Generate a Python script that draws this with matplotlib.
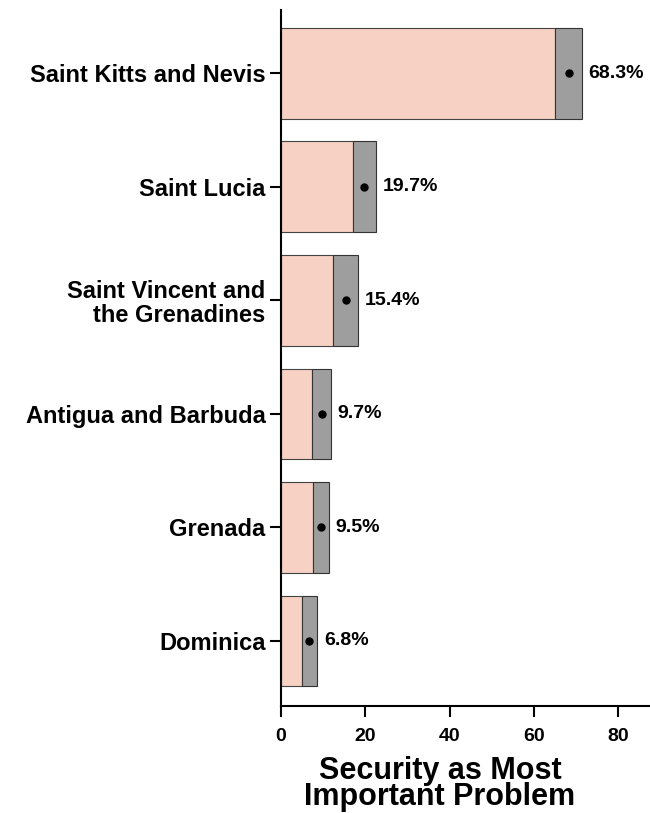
"""
Security as most important problem, by country.
Bars run up to the lower bound, grey box spans the interval,
dot marks the estimate.
"""

import matplotlib
matplotlib.use("Agg")
import matplotlib.pyplot as plt

countries = ["Saint Kitts and Nevis", "Saint Lucia",
             "Saint Vincent and\nthe Grenadines", "Antigua and Barbuda",
             "Grenada", "Dominica"]
estimate = [68.3, 19.7, 15.4, 9.7, 9.5, 6.8]
lower = [65.1, 17.1, 12.4, 7.4, 7.7, 5.0]
upper = [71.3, 22.5, 18.2, 11.9, 11.4, 8.6]
x_ticks = [0, 20, 40, 60, 80]

plt.rcParams['font.family'] = ['Liberation Sans', 'DejaVu Sans']
plt.rcParams['font.weight'] = 'bold'

fig = plt.figure(figsize=(6.5, 8.13), dpi=100)
ax = fig.add_axes([0.432, 0.132, 0.568, 0.856])

# bottom row is Dominica
ypos = list(range(len(countries)))[::-1]

ax.barh(ypos, lower, height=0.8, color='#F6D1C4',
        edgecolor='#444444', linewidth=0.8)
ax.barh(ypos, [u - l for u, l in zip(upper, lower)], left=lower,
        height=0.8, color='#9E9E9E', edgecolor='#333333', linewidth=0.8)
ax.plot(estimate, ypos, 'o', color='black', markersize=5)

# value labels
for y, u, e in zip(ypos, upper, estimate):
    ax.text(u + 1.6, y, f"{e}%", va='center', ha='left',
            fontsize=14, fontweight='bold')

ax.set_xlim(0, 87.5)
ax.set_ylim(-0.57, 5.56)
ax.set_xticks(x_ticks)
ax.set_yticks(ypos)
ax.set_yticklabels(countries, fontsize=17, fontweight='bold', linespacing=1.05)
ax.tick_params(axis='x', labelsize=14, length=8, width=1.5, pad=8)
ax.tick_params(axis='y', length=8, width=1.5, pad=3)

for s in ['top', 'right']:
    ax.spines[s].set_visible(False)
for s in ['left', 'bottom']:
    ax.spines[s].set_linewidth(1.5)

ax.set_xlabel("Security as Most\nImportant Problem", fontsize=22,
              fontweight='bold', linespacing=0.82)
ax.xaxis.set_label_coords(0.431, -0.072)
ax.xaxis.label.set_va('top')

fig.savefig("out.png", dpi=100)
